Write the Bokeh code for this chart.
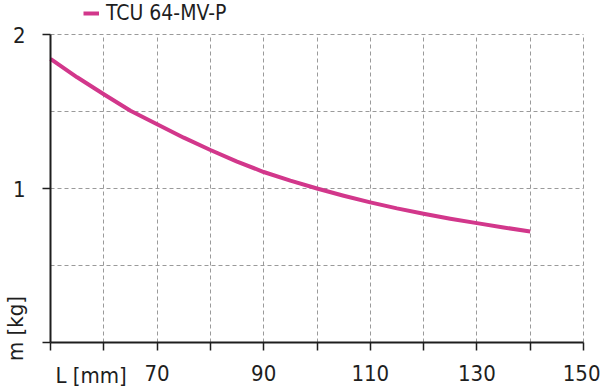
import numpy as np
from bokeh.plotting import figure
from bokeh.models import FixedTicker, Label, Legend, LegendItem, Range1d
from bokeh.embed import file_html
from bokeh.resources import INLINE

# ---- data ----
L_mm = [50, 55, 60, 65, 70, 75, 80, 85, 90, 95, 100, 105, 110, 115, 120, 125, 130, 135, 140]
m_kg = [1.842, 1.722, 1.612, 1.505, 1.417, 1.330, 1.250, 1.175, 1.107, 1.051, 1.000,
        0.953, 0.910, 0.871, 0.836, 0.804, 0.775, 0.747, 0.721]
series_name = "TCU 64-MV-P"
x_ticks = [50, 60, 70, 80, 90, 100, 110, 120, 130, 140, 150]
x_labeled = [70, 90, 110, 130, 150]
y_ticks = [0, 1, 2]
y_labeled = [1, 2]
x_grid_ticks = [60, 70, 80, 90, 100, 110, 120, 130, 140, 150]
y_grid_ticks = [0.5, 1, 1.5, 2]
x_title = "L [mm]"
y_title = "m [kg]"

# ---- layout (pixels of the 600x388 canvas) ----
W, H = 600, 388
PX_L, PX_R = 50, 583      # x = 50 .. 150
PX_T, PX_B = 34, 342      # y = 2 .. 0
KX = (PX_R - PX_L) / (150 - 50)
KY = (PX_B - PX_T) / (2 - 0)
X0 = 50 - PX_L / KX
X1 = 150 + (W - PX_R) / KX
Y0 = 0 - (H - PX_B) / KY
Y1 = 2 + PX_T / KY


def xd(px):
    return X0 + px / KX


def yd(py):
    return Y1 - py / KY


FONT = "DejaVu Sans Condensed"
FS = "22px"
PINK = "#d2378b"
AX = "#1e1e1e"
GRID = "#9a9a9a"

p = figure(width=W, height=H, output_backend="svg", toolbar_location=None,
           x_range=Range1d(X0, X1), y_range=Range1d(Y0, Y1),
           min_border=0, min_border_left=0, min_border_right=0,
           min_border_top=0, min_border_bottom=0)
p.outline_line_color = None
p.background_fill_color = "white"
p.border_fill_color = "white"

r = p.line(L_mm, m_kg, line_color=PINK, line_width=4, line_join="round")

# x axis
xa = p.xaxis[0]
xa.fixed_location = 0
xa.bounds = (50, 150)
xa.ticker = FixedTicker(ticks=x_ticks)
xa.major_label_overrides = {t: (str(t) if t in x_labeled else "") for t in x_ticks}
xa.axis_line_color = AX
xa.axis_line_width = 2
xa.major_tick_line_color = AX
xa.major_tick_line_width = 1.5
xa.major_tick_in = 0
xa.major_tick_out = 8
xa.minor_tick_line_color = None
xa.major_label_standoff = 14
xa.major_label_text_font = FONT
xa.major_label_text_font_size = FS
xa.major_label_text_color = AX

# y axis
ya = p.yaxis[0]
ya.fixed_location = 50
ya.bounds = (0, 2)
ya.ticker = FixedTicker(ticks=y_ticks)
ya.major_label_overrides = {t: (str(t) if t in y_labeled else "") for t in y_ticks}
ya.axis_line_color = AX
ya.axis_line_width = 2
ya.major_tick_line_color = AX
ya.major_tick_line_width = 1.5
ya.major_tick_in = 0
ya.major_tick_out = 8
ya.minor_tick_line_color = None
ya.major_label_standoff = 17
ya.major_label_text_font = FONT
ya.major_label_text_font_size = FS
ya.major_label_text_color = AX

# grids
p.xgrid.ticker = FixedTicker(ticks=x_grid_ticks)
p.ygrid.ticker = FixedTicker(ticks=y_grid_ticks)
p.xgrid.bounds = (50, 150)
p.ygrid.bounds = (0, 2)
p.xgrid.cross_bounds = (0, 2)
p.ygrid.cross_bounds = (50, 150)
for g in (p.xgrid[0], p.ygrid[0]):
    g.grid_line_color = GRID
    g.grid_line_width = 1
    g.grid_line_dash = "4 3"

# axis titles
p.add_layout(Label(x=xd(55), y=yd(375), text=x_title, text_font=FONT, text_font_size=FS,
                   text_color=AX, text_align="left", text_baseline="alphabetic"))
p.add_layout(Label(x=xd(15), y=yd(328), text=y_title, angle=np.pi / 2, text_font=FONT,
                   text_font_size=FS, text_color=AX, text_align="center",
                   text_baseline="alphabetic"))

# legend
leg = Legend(items=[LegendItem(label=series_name, renderers=[r])],
             location=(83, H - 25),
             orientation="horizontal", padding=0, margin=0, spacing=0,
             glyph_width=16, glyph_height=14, label_standoff=7,
             label_text_font=FONT, label_text_font_size="21px", label_text_color=AX,
             label_height=20, border_line_color=None, background_fill_alpha=0)
p.add_layout(leg)

open("out.html", "w").write(file_html(p, INLINE))
